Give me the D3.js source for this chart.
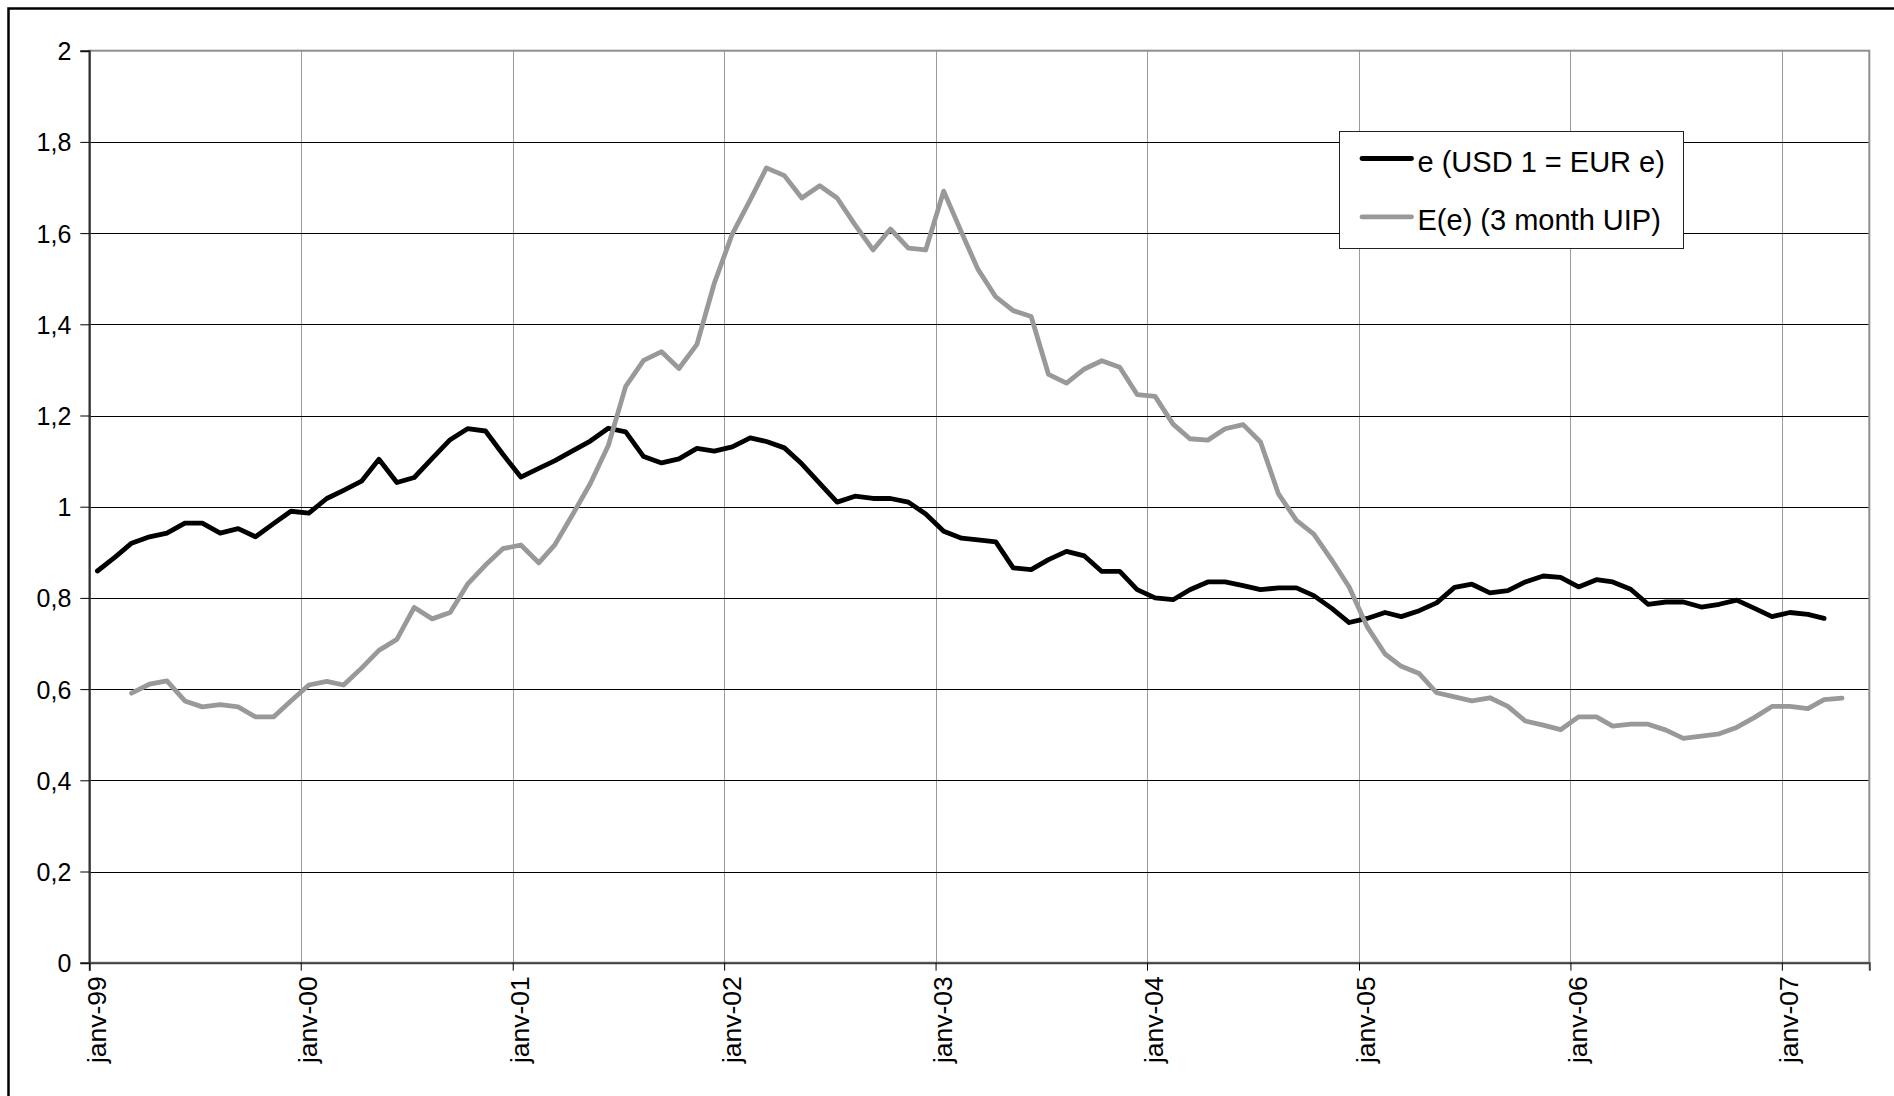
<!DOCTYPE html>
<html>
<head>
<meta charset="utf-8">
<script src="https://cdn.jsdelivr.net/npm/d3@7"></script>
<style>
  html, body { margin: 0; padding: 0; background: #fff; }
  svg { display: block; font-family: "Liberation Sans", Arial, sans-serif; }
</style>
</head>
<body>
<svg id="chart" width="1894" height="1096"></svg>
<script>
// Spot exchange rate e (USD 1 = EUR e), monthly, from January 1999
const spotStart = [1999, 0];
const spotValues = [
  0.859, 0.890, 0.920, 0.934, 0.942, 0.964, 0.964, 0.942, 0.952, 0.934, 0.963, 0.990,
  0.986, 1.018, 1.036, 1.056, 1.104, 1.053, 1.064, 1.106, 1.147, 1.171, 1.166, 1.115,
  1.065, 1.084, 1.101, 1.123, 1.144, 1.172, 1.164, 1.110, 1.096, 1.105, 1.128, 1.122,
  1.131, 1.151, 1.143, 1.129, 1.094, 1.051, 1.010, 1.023, 1.018, 1.018, 1.010, 0.984,
  0.946, 0.931, 0.927, 0.923, 0.866, 0.862, 0.884, 0.902, 0.892, 0.858, 0.858, 0.818,
  0.800, 0.796, 0.818, 0.835, 0.835, 0.827, 0.818, 0.822, 0.822, 0.805, 0.777, 0.746,
  0.755, 0.768, 0.759, 0.772, 0.789, 0.823, 0.830, 0.811, 0.816, 0.835, 0.848, 0.845,
  0.824, 0.840, 0.835, 0.819, 0.786, 0.791, 0.791, 0.780, 0.786, 0.795, 0.777, 0.759,
  0.768, 0.764, 0.755
];

// Expected rate E(e) from 3-month uncovered interest parity, from March 1999
const uipStart = [1999, 2];
const uipValues = [
  0.591, 0.611, 0.618, 0.574, 0.561, 0.566, 0.561, 0.539, 0.539, 0.574,
  0.609, 0.617, 0.609, 0.646, 0.685, 0.709, 0.779, 0.754, 0.768, 0.830, 0.872, 0.908,
  0.916, 0.877, 0.917, 0.984, 1.051, 1.134, 1.264, 1.321, 1.340, 1.303, 1.356, 1.490,
  1.598, 1.673, 1.743, 1.726, 1.677, 1.704, 1.677, 1.618, 1.563, 1.609, 1.567, 1.563,
  1.692, 1.601, 1.521, 1.460, 1.430, 1.417, 1.290, 1.271, 1.302, 1.320, 1.306, 1.246,
  1.242, 1.181, 1.149, 1.146, 1.171, 1.180, 1.142, 1.028, 0.970, 0.940, 0.883, 0.824,
  0.737, 0.677, 0.650, 0.634, 0.592, 0.583, 0.574, 0.581, 0.562, 0.530, 0.521, 0.511,
  0.539, 0.539, 0.519, 0.523, 0.523, 0.510, 0.492, 0.497, 0.502, 0.516, 0.538, 0.562,
  0.562, 0.557, 0.577, 0.580
];

const seriesNames = ["e (USD 1 = EUR e)", "E(e) (3 month UIP)"];
const seriesColors = ["#000000", "#999999"];

const yTicks = [0, 0.2, 0.4, 0.6, 0.8, 1, 1.2, 1.4, 1.6, 1.8, 2];
const xTickYears = [1999, 2000, 2001, 2002, 2003, 2004, 2005, 2006, 2007];
const xTickLabels = ["janv-99", "janv-00", "janv-01", "janv-02", "janv-03",
                     "janv-04", "janv-05", "janv-06", "janv-07"];

// ---- layout ----
const svg = d3.select("#chart");
const plot = { left: 89.3, top: 50.7, right: 1869.3, bottom: 962.7 };
const fontStack = "\"Liberation Sans\", Arial, sans-serif";

const frLocale = d3.formatLocale({ decimal: ",", thousands: " ", grouping: [3], currency: ["", " €"] });
const fmtY = frLocale.format("~g");

const x = d3.scaleTime()
  .domain([new Date(1999, 0, 1), new Date(2007, 5, 1)])
  .range([plot.left, plot.right]);
const y = d3.scaleLinear().domain([0, 2]).range([plot.bottom, plot.top]);

function toPoints(start, values) {
  return values.map((v, i) => ({ date: new Date(start[0], start[1] + i, 15), value: v }));
}
const spot = toPoints(spotStart, spotValues);
const uip = toPoints(uipStart, uipValues);

// outer chart frame (runs off the right and bottom edges)
svg.append("rect")
  .attr("x", 8.5).attr("y", 8.5)
  .attr("width", 2000).attr("height", 1200)
  .attr("fill", "none").attr("stroke", "#000").attr("stroke-width", 2.5);

// vertical gridlines
const tickDates = xTickYears.map(yr => new Date(yr, 0, 1));
svg.append("g")
  .selectAll("line")
  .data(tickDates.slice(1))
  .join("line")
  .attr("x1", d => Math.round(x(d)) + 0.5).attr("x2", d => Math.round(x(d)) + 0.5)
  .attr("y1", plot.top).attr("y2", plot.bottom)
  .attr("stroke", "#9a9a9a").attr("stroke-width", 1);

// horizontal gridlines
svg.append("g")
  .selectAll("line")
  .data(yTicks.filter(t => t > 0 && t < 2))
  .join("line")
  .attr("x1", plot.left).attr("x2", plot.right)
  .attr("y1", d => Math.round(y(d)) + 0.5).attr("y2", d => Math.round(y(d)) + 0.5)
  .attr("stroke", "#000").attr("stroke-width", 1);

// plot area border
svg.append("rect")
  .attr("x", plot.left).attr("y", plot.top)
  .attr("width", plot.right - plot.left).attr("height", plot.bottom - plot.top)
  .attr("fill", "none").attr("stroke", "#8f8f8f").attr("stroke-width", 2);

// y axis
const yAxis = svg.append("g")
  .attr("transform", `translate(${plot.left},0)`)
  .call(d3.axisLeft(y).tickValues(yTicks).tickSize(9).tickFormat(fmtY));
yAxis.select(".domain").attr("stroke", "#333").attr("stroke-width", 2);
yAxis.selectAll(".tick line").attr("stroke", "#000");
yAxis.selectAll(".tick text")
  .attr("x", -18)
  .attr("dy", "0.36em")
  .attr("fill", "#000")
  .style("font-size", "25px")
  .style("font-family", fontStack);

// x axis
const xAxis = svg.append("g")
  .attr("transform", `translate(0,${plot.bottom})`)
  .call(d3.axisBottom(x).tickValues(tickDates).tickSize(8).tickFormat((d, i) => xTickLabels[i]));
xAxis.select(".domain").attr("stroke", "#444").attr("stroke-width", 2);
xAxis.selectAll(".tick line").attr("stroke", "#000");
xAxis.selectAll(".tick text")
  .attr("x", 0).attr("y", 0)
  .attr("dy", "0.35em")
  .attr("text-anchor", "end")
  .attr("transform", "translate(6.6,13.5) rotate(-90)")
  .attr("fill", "#000")
  .style("font-size", "26.5px")
  .style("font-family", fontStack);

// series lines
const line = d3.line().x(d => x(d.date)).y(d => y(d.value));
[spot, uip].forEach((data, i) => {
  svg.append("path")
    .datum(data)
    .attr("d", line)
    .attr("fill", "none")
    .attr("stroke", seriesColors[i])
    .attr("stroke-width", 4.8)
    .attr("stroke-linejoin", "round")
    .attr("stroke-linecap", "round");
});

// legend
const legend = svg.append("g").attr("transform", "translate(1339.5,131.5)");
legend.append("rect")
  .attr("width", 344).attr("height", 117)
  .attr("fill", "#fff").attr("stroke", "#222").attr("stroke-width", 1);
const rows = legend.selectAll("g.row")
  .data(seriesNames)
  .join("g")
  .attr("class", "row")
  .attr("transform", (d, i) => `translate(0,${27 + i * 58.4})`);
rows.append("line")
  .attr("x1", 22.5).attr("x2", 72)
  .attr("stroke", (d, i) => seriesColors[i])
  .attr("stroke-width", 4.8)
  .attr("stroke-linecap", "round");
rows.append("text")
  .attr("x", 78).attr("y", 3)
  .attr("dy", "0.36em")
  .style("font-size", "29px")
  .style("font-family", fontStack)
  .attr("fill", "#000")
  .text(d => d);
</script>
</body>
</html>
